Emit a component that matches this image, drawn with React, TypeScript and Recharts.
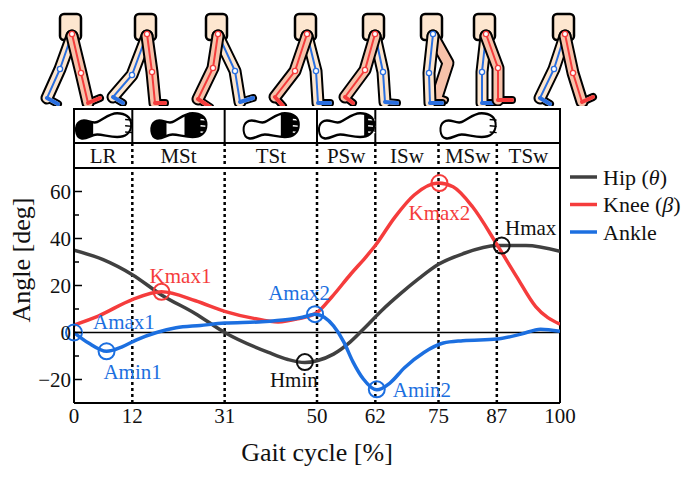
import React from 'react';
import { LineChart, Line, XAxis, YAxis, ReferenceLine, ReferenceDot } from 'recharts';

// ---------- data ----------
const hipCycle = [0, 6, 12, 18, 25, 31, 40, 44, 47.5, 50, 53.4, 56.8, 60.2, 63.6, 67, 71, 75, 80, 87, 93, 100];
const hipAngle = [35, 31, 24.6, 16, 8, 0, -8.5, -11.5, -12.8, -12, -9.2, -4.1, 2.8, 9.9, 16.2, 23, 29, 33.5, 37, 37, 34.5];

const kneeCycle = [0, 5, 12, 18, 25, 31, 37, 42, 46, 50, 53, 57, 60, 62, 66, 70, 75, 78, 82, 87, 91, 95, 100];
const kneeAngle = [3.2, 7, 14, 17.3, 13.5, 9, 6, 4.5, 5.8, 8.5, 15, 25, 32, 37, 49, 58.5, 63.6, 62, 53.5, 37.5, 24, 11, 3.5];

const ankleCycle = [0, 3, 6.7, 10, 13, 17, 21, 26, 31, 38, 44, 47, 49.6, 51.5, 53.4, 55.5, 57.4, 59.5, 62.3, 65, 68, 72, 76, 80, 87, 92, 96, 100];
const ankleAngle = [0, -4.5, -8, -6, -3, 0, 2, 3, 4, 4.5, 5.5, 6.5, 7.8, 6.5, 2.8, -4, -12.5, -19.7, -24.4, -21.5, -15, -8.5, -4.5, -3.5, -2.8, -0.7, 1.4, 0.5];

const seriesNames = ['Hip (θ)', 'Knee (β)', 'Ankle'];
const seriesKeys = ['hip', 'knee', 'ankle'];

const xTicks = [0, 12, 31, 50, 62, 75, 87, 100];
const yTicks = [-20, -10, 0, 10, 20, 30, 40, 50, 60];
const phaseBounds = [0, 12, 31, 50, 62, 75, 87, 100];
const phaseNames = ['LR', 'MSt', 'TSt', 'PSw', 'ISw', 'MSw', 'TSw'];
const footBounds = [0, 12, 31, 50, 62, 100];
const footContact = ['heel', 'heelFore', 'fore', 'toe', 'none'];

const markerNames = ['Amax1', 'Amin1', 'Kmax1', 'Hmin', 'Amax2', 'Amin2', 'Kmax2', 'Hmax'];
const markerSeries = ['ankle', 'ankle', 'knee', 'hip', 'ankle', 'ankle', 'knee', 'hip'];
const markerCycle = [0, 6.7, 18, 47.5, 49.6, 62.3, 75.2, 88];
const markerAngle = [0, -8, 17.3, -12.6, 7.8, -24.2, 63.6, 37];

// ---------- styles ----------
const FONT = '"Liberation Serif", "Times New Roman", serif';
const COLORS: Record<string, string> = { hip: '#404040', knee: '#f53c3c', ankle: '#1c6fe0' };
const MARK_COLORS: Record<string, string> = { hip: '#111111', knee: '#f53c3c', ankle: '#1c6fe0' };
const labelOffsets: [number, number, string][] = [
  [19, -11, 'start'], [26, 20, 'middle'], [19, -16, 'middle'], [-11, 18, 'middle'],
  [-16, -22, 'middle'], [16, 0, 'start'], [0, 30, 'middle'], [29, -18, 'middle'],
];

const rows = (c: number[], a: number[]) => c.map((v, i) => ({ cycle: v, angle: a[i] }));
const seriesData = [rows(hipCycle, hipAngle), rows(kneeCycle, kneeAngle), rows(ankleCycle, ankleAngle)];
const spanData = [{ cycle: 0, angle: 0 }, { cycle: 100, angle: 0 }];

const phaseMids = phaseBounds.slice(0, -1).map((b, i) => (b + phaseBounds[i + 1]) / 2);
const footMids = footBounds.slice(0, -1).map((b, i) => (b + footBounds[i + 1]) / 2);

// ---------- decorations ----------
const FOOT_PATH =
  'M -24 -4 C -18 -8, -12 -2, -6 -4 C 0 -6, 6 -11, 14 -11 C 22 -11, 28 -8, 28 -2 C 28 5, 22 8, 14 8 C 6 8, 0 6, -6 6 C -12 6, -16 10, -22 9 C -28 8, -29 -1, -24 -4 Z';

const Foot = ({ cx, cy, contact, id }: { cx: number; cy: number; contact: string; id: string }) => {
  const fills: [number, number][] = [];
  if (contact === 'heel') fills.push([-30, -10]);
  if (contact === 'heelFore') { fills.push([-30, -12]); fills.push([6, 30]); }
  if (contact === 'fore') fills.push([10, 30]);
  if (contact === 'toe') fills.push([18, 30]);
  const toeColor = contact === 'none' || contact === 'heel' ? '#000' : '#fff';
  return (
    <g transform={`translate(${cx},${cy}) scale(1,1.25)`}>
      <defs>
        <clipPath id={id}><path d={FOOT_PATH} /></clipPath>
      </defs>
      <path d={FOOT_PATH} fill="#fff" stroke="none" />
      <g clipPath={`url(#${id})`}>
        {fills.map(([a, b], i) => (
          <rect key={i} x={a} y={-14} width={b - a} height={28} fill="#000" />
        ))}
      </g>
      {[-6, -1, 4].map((ty, i) => (
        <line key={i} x1={22} x2={29} y1={ty} y2={ty + 0.5} stroke={toeColor} strokeWidth={1.2} />
      ))}
      <path d={FOOT_PATH} fill="none" stroke="#000" strokeWidth={2} />
    </g>
  );
};

type Leg = { c: string; k: number[]; a: number[]; t: number[] };
const figures: { hx: number; legs: Leg[] }[] = [
  { hx: 72, legs: [{ c: 'b', k: [-12, 35], a: [-25, 64], t: [-14, 70] }, { c: 'r', k: [9, 39], a: [16, 69], t: [28, 64] }] },
  { hx: 147, legs: [{ c: 'b', k: [-15, 41], a: [-34, 63], t: [-24, 69] }, { c: 'r', k: [5, 38], a: [8, 69], t: [18, 69] }] },
  { hx: 218, legs: [{ c: 'b', k: [17, 37], a: [22, 68], t: [35, 64] }, { c: 'r', k: [-5, 34], a: [-20, 65], t: [-8, 73] }] },
  { hx: 307, legs: [{ c: 'b', k: [9, 37], a: [11, 69], t: [23, 69] }, { c: 'r', k: [-12, 37], a: [-32, 63], t: [-24, 72] }] },
  { hx: 375, legs: [{ c: 'b', k: [8, 38], a: [10, 68], t: [22, 69] }, { c: 'r', k: [-10, 36], a: [-30, 63], t: [-22, 69] }] },
  { hx: 433, legs: [{ c: 'p', k: [15, 29], a: [4, 63], t: [12, 66] }, { c: 'b', k: [-4, 39], a: [-3, 69], t: [9, 69] }] },
  { hx: 486, legs: [{ c: 'b', k: [-4, 38], a: [-4, 69], t: [7, 69] }, { c: 'r', k: [12, 34], a: [12, 66], t: [26, 66] }] },
  { hx: 565, legs: [{ c: 'b', k: [-11, 35], a: [-25, 64], t: [-15, 70] }, { c: 'r', k: [8, 39], a: [17, 68], t: [28, 63] }] },
];

const LegFigures = () => {
  const HY = 34;
  return (
    <svg width={688} height={106} style={{ position: 'absolute', left: 0, top: 0 }}>
      {figures.map((f, fi) => {
        const hx = f.hx;
        return (
          <g key={fi}>
            <rect x={hx - 12} y={14} width={21} height={26} rx={4} fill="#fde6cf" stroke="#000" strokeWidth={2.5} />
            {f.legs.map((l, li) => {
              const k = [hx + l.k[0], HY + l.k[1]];
              const a = [hx + l.a[0], HY + l.a[1]];
              const t = [hx + l.t[0], HY + l.t[1]];
              const legPts = `${hx},${HY + 2} ${k[0]},${k[1]} ${a[0]},${a[1]}`;
              const footPts = `${a[0]},${a[1]} ${t[0]},${t[1]}`;
              const skin = l.c === 'b' ? '#fde6cf' : '#f7c2aa';
              const sk = l.c === 'b' ? '#2a6fe0' : '#f53c3c';
              return (
                <g key={li}>
                  <polyline points={legPts} fill="none" stroke="#000" strokeWidth={13} strokeLinejoin="round" strokeLinecap="round" />
                  <polyline points={footPts} fill="none" stroke="#000" strokeWidth={8} strokeLinecap="round" />
                  <polyline points={legPts} fill="none" stroke={skin} strokeWidth={9} strokeLinejoin="round" strokeLinecap="round" />
                  <polyline points={footPts} fill="none" stroke={skin} strokeWidth={4} strokeLinecap="round" />
                  {l.c !== 'p' && (
                    <g>
                      <polyline points={`${hx},${HY} ${k[0]},${k[1]} ${a[0]},${a[1]} ${t[0]},${t[1]}`} fill="none" stroke={sk} strokeWidth={2} />
                      <polyline points={footPts} fill="none" stroke={sk} strokeWidth={4} strokeLinecap="round" />
                      <circle cx={hx} cy={HY} r={2.6} fill="#fff" stroke={sk} strokeWidth={1.3} />
                      <circle cx={k[0]} cy={k[1]} r={2.6} fill="#fff" stroke={sk} strokeWidth={1.3} />
                    </g>
                  )}
                </g>
              );
            })}
          </g>
        );
      })}
    </svg>
  );
};

const LegendBox = () => (
  <svg width={122} height={90} style={{ position: 'absolute', left: 566, top: 163 }}>
    {seriesNames.map((name, i) => {
      const m = name.match(/^(.*) \((.)\)$/);
      const cy = 14 + i * 27.5;
      return (
        <g key={name}>
          <line x1={4} x2={31} y1={cy} y2={cy} stroke={COLORS[seriesKeys[i]]} strokeWidth={3.5} />
          <text x={37} y={cy} dy="0.35em" fontSize={22} fontFamily={FONT} fill="#111">
            {m ? (
              <>
                {m[1]} (<tspan fontStyle="italic">{m[2]}</tspan>)
              </>
            ) : name}
          </text>
        </g>
      );
    })}
  </svg>
);

// ---------- ticks ----------
const fmt = (v: number) => (v < 0 ? `\u2212${Math.abs(v)}` : `${v}`);

const YTick = (props: any) => {
  const { x, y, payload } = props;
  const v = payload.value;
  if (v % 20 === 0) {
    return (
      <g>
        <line x1={x} x2={x + 8} y1={y} y2={y} stroke="#000" strokeWidth={1.5} />
        <text x={x - 3} y={y} dy="0.34em" textAnchor="end" fontSize={21} fontFamily={FONT} fill="#111">{fmt(v)}</text>
      </g>
    );
  }
  return <line x1={x} x2={x + 5} y1={y} y2={y} stroke="#000" strokeWidth={1.5} />;
};

const LABEL_ROW = 25;
const FOOT_ROW = 34;

const PhaseTick = (props: any) => {
  const { x, y, payload } = props;
  const v = payload.value;
  if (phaseBounds.indexOf(v) >= 0) {
    const edge = v === 0 || v === 100;
    return (
      <line x1={x} x2={x} y1={y - LABEL_ROW} y2={y} stroke="#000" strokeWidth={edge ? 2 : 2.5}
        strokeDasharray={edge ? undefined : '3 3'} />
    );
  }
  const mi = phaseMids.indexOf(v);
  return (
    <text x={x} y={y - LABEL_ROW / 2} dy="0.35em" textAnchor="middle" fontSize={21} fontFamily={FONT} fill="#111">
      {phaseNames[mi]}
    </text>
  );
};

const FootTick = (props: any) => {
  const { x, y, payload } = props;
  const v = payload.value;
  if (footBounds.indexOf(v) >= 0) {
    return <line x1={x} x2={x} y1={y - FOOT_ROW - 1} y2={y} stroke="#000" strokeWidth={2} />;
  }
  const mi = footMids.indexOf(v);
  return <Foot cx={x} cy={y - FOOT_ROW / 2 + 1} contact={footContact[mi]} id={`foot-${mi}`} />;
};

const MarkerLabel = (i: number) => (props: any) => {
  const vb = props.viewBox || {};
  const cx = vb.x + (vb.width || 0) / 2;
  const cy = vb.y + (vb.height || 0) / 2;
  const [dx, dy, anchor] = labelOffsets[i];
  return (
    <text x={cx + dx} y={cy + dy} dy="0.35em" textAnchor={anchor as any} fontSize={21} fontFamily={FONT}
      fill={MARK_COLORS[markerSeries[i]]}>
      {markerNames[i]}
    </text>
  );
};

export default function App() {
  return (
    <div style={{ position: 'absolute', left: 0, top: 0, width: 688, height: 477, background: '#fff' }}>
      <LegFigures />
      <LineChart width={688} height={477} margin={{ top: 108, right: 128, bottom: 44, left: 34 }}>
        <XAxis xAxisId={0} dataKey="cycle" type="number" domain={[0, 100]} ticks={xTicks} interval={0}
          allowDataOverflow tickLine={false} tickSize={0} tickMargin={5}
          axisLine={{ stroke: '#000', strokeWidth: 2 }}
          tick={{ fontSize: 21, fontFamily: FONT, fill: '#111' }} height={30}
          label={{
            content: () => (
              <text x={317} y={461} textAnchor="middle" fontSize={26} fontFamily={FONT} fill="#111">Gait cycle [%]</text>
            ),
          }} />
        <XAxis xAxisId="a_phase" dataKey="cycle" orientation="top" type="number" domain={[0, 100]} allowDataOverflow
          ticks={[...phaseBounds, ...phaseMids]} interval={0} tickSize={0} tickMargin={0} tickLine={false}
          height={LABEL_ROW} axisLine={{ stroke: '#000', strokeWidth: 2 }} tick={<PhaseTick />} />
        <XAxis xAxisId="b_foot" dataKey="cycle" orientation="top" type="number" domain={[0, 100]} allowDataOverflow
          ticks={[...footBounds, ...footMids]} interval={0} tickSize={0} tickMargin={0} tickLine={false}
          height={FOOT_ROW} axisLine={{ stroke: '#000', strokeWidth: 2 }} tick={<FootTick />} />
        <XAxis xAxisId="c_roof" dataKey="cycle" orientation="top" type="number" domain={[0, 100]} allowDataOverflow
          ticks={[0, 100]} tick={false} tickLine={false} height={1} axisLine={{ stroke: '#000', strokeWidth: 2 }} />
        <YAxis type="number" domain={[-30, 70]} ticks={yTicks} interval={0} allowDataOverflow width={40}
          tickSize={0} tickMargin={0} tickLine={false} axisLine={{ stroke: '#000', strokeWidth: 2 }}
          tick={<YTick />}
          label={{
            content: () => (
              <text x={22} y={260} transform="rotate(-90, 22, 260)" textAnchor="middle" dy="0.3em"
                fontSize={26} fontFamily={FONT} fill="#111">Angle [deg]</text>
            ),
          }} />
        <Line xAxisId="a_phase" data={spanData} dataKey="angle" stroke="none" dot={false} activeDot={false}
          legendType="none" isAnimationActive={false} />
        <Line xAxisId="b_foot" data={spanData} dataKey="angle" stroke="none" dot={false} activeDot={false}
          legendType="none" isAnimationActive={false} />
        <Line xAxisId="c_roof" data={spanData} dataKey="angle" stroke="none" dot={false} activeDot={false}
          legendType="none" isAnimationActive={false} />
        {phaseBounds.slice(1, -1).map((b) => (
          <ReferenceLine key={b} x={b} stroke="#000" strokeWidth={2.5} strokeDasharray="3 3" />
        ))}
        <ReferenceLine x={100} stroke="#000" strokeWidth={2} />
        <ReferenceLine y={0} stroke="#000" strokeWidth={1.5} />
        {seriesKeys.map((k, i) => (
          <Line key={k} data={seriesData[i]} dataKey="angle" name={seriesNames[i]} type="monotone"
            stroke={COLORS[k]} strokeWidth={3.5} dot={false} isAnimationActive={false} />
        ))}
        {markerNames.map((n, i) => (
          <ReferenceDot key={n} x={markerCycle[i]} y={markerAngle[i]} r={8} fill="none"
            stroke={MARK_COLORS[markerSeries[i]]} strokeWidth={2} label={MarkerLabel(i) as any} />
        ))}
      </LineChart>
      <LegendBox />
    </div>
  );
}
